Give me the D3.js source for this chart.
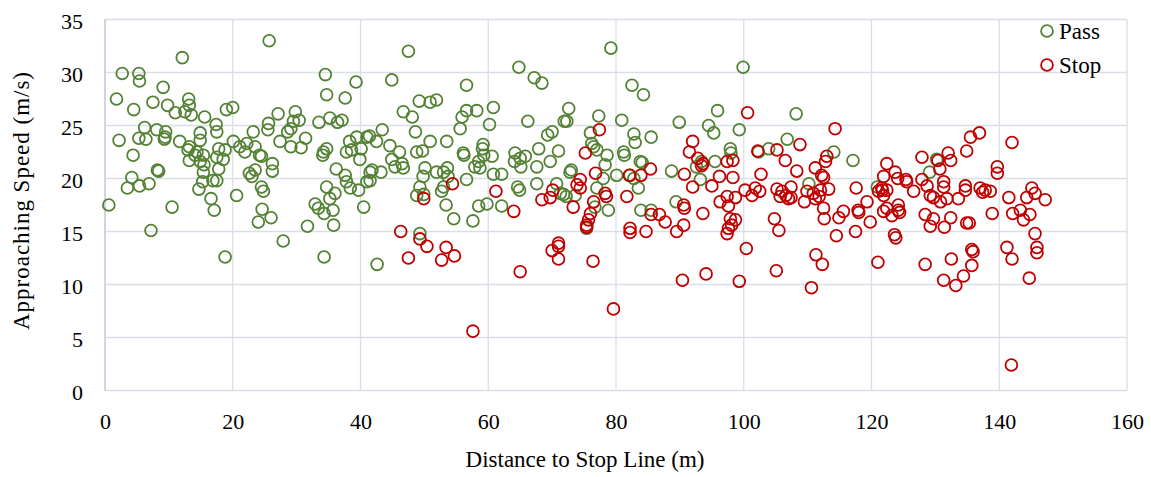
<!DOCTYPE html>
<html>
<head>
<meta charset="utf-8">
<script src="https://cdn.jsdelivr.net/npm/d3@7"></script>
<style>
  html, body { margin: 0; padding: 0; background: #fff; }
  svg { display: block; }
  text { font-family: "Liberation Serif", "Times New Roman", serif; fill: #000; }
</style>
</head>
<body>
<svg id="chart" width="1151" height="477"></svg>
<script>
// ---- data ----
const seriesNames = ["Pass", "Stop"];
const xTicks = [0, 20, 40, 60, 80, 100, 120, 140, 160];
const yTicks = [0, 5, 10, 15, 20, 25, 30, 35];
const xTitle = "Distance to Stop Line (m)";
const yTitle = "Approaching Speed (m/s)";

const passPoints = [
[25.7,33.0],[12.1,31.4],[2.7,29.9],[5.3,29.9],[5.4,29.2],[9.1,28.6],[1.8,27.5],[4.5,26.5],[7.5,27.2],[9.8,26.9],
[13.1,27.5],[13.2,26.9],[11.0,26.2],[12.5,26.3],[13.5,26.0],[15.6,25.8],[17.4,25.1],[17.5,24.4],[19.0,26.5],[20.0,26.7],
[6.2,24.8],[8.1,24.6],[9.5,24.4],[9.4,23.9],[9.3,23.7],[5.3,23.8],[6.4,23.7],[2.2,23.6],[11.7,23.5],[14.9,24.3],
[14.9,23.6],[13.2,23.0],[13.0,22.7],[14.4,22.5],[14.1,22.2],[15.4,22.2],[13.2,21.7],[14.9,21.6],[15.5,21.3],[17.8,22.8],
[18.8,22.7],[17.5,22.0],[18.5,21.8],[17.8,20.9],[15.4,20.6],[4.4,22.2],[8.2,20.8],[8.4,20.7],[4.2,20.1],[3.5,19.1],
[5.4,19.3],[6.9,19.5],[15.3,19.7],[16.9,19.8],[17.5,19.8],[14.7,19.0],[20.6,18.4],[20.1,23.5],[22.2,23.3],[23.2,24.4],
[21.1,23.0],[21.9,22.5],[23.5,23.0],[24.2,22.2],[24.5,22.1],[25.6,25.2],[25.5,24.6],[27.1,26.1],[29.8,26.3],[30.4,25.5],
[29.5,25.4],[29.1,24.7],[28.6,24.4],[27.4,23.5],[29.1,23.0],[30.7,22.9],[31.4,23.8],[26.2,21.4],[26.2,20.7],[22.6,20.5],
[23.0,20.2],[23.5,20.8],[24.5,19.2],[24.8,18.8],[0.6,17.5],[10.5,17.3],[16.6,18.1],[34.5,29.8],[34.7,27.9],[37.6,27.6],
[39.3,29.1],[33.5,25.3],[35.2,25.7],[36.4,25.3],[37.1,25.5],[39.4,23.9],[38.3,23.5],[34.7,22.8],[34.2,22.5],[34.1,22.2],
[37.8,22.5],[38.6,22.7],[40.1,22.8],[39.9,21.8],[41.0,23.9],[36.2,20.9],[37.6,20.3],[37.8,19.7],[38.4,19.1],[39.7,18.9],
[41.0,19.7],[34.7,19.2],[36.0,18.6],[35.2,18.1],[32.9,17.6],
[7.2,15.1],[17.1,17.0],[18.8,12.6],[24.6,17.1],[24.0,15.9],[26.0,16.3],[27.9,14.1],[31.7,15.5],[33.4,17.2],[34.3,16.7],
[35.7,17.0],[35.8,15.6],[34.3,12.6],[40.5,17.3],
[47.5,32.0],[44.9,29.3],[56.6,28.8],[64.8,30.5],[67.2,29.5],[68.4,29.0],[79.2,32.3],[82.5,28.8],[49.2,27.3],[50.9,27.2],
[51.9,27.4],[46.7,26.3],[48.1,25.8],[56.6,26.4],[58.2,26.4],[55.9,25.8],[55.6,24.7],[60.8,26.7],[60.2,25.1],[48.6,24.4],
[43.4,24.6],[41.4,24.0],[42.5,23.5],[44.6,23.1],[46.1,22.5],[44.9,21.8],[45.4,21.1],[46.5,21.4],[46.7,21.0],[48.8,22.5],
[49.7,22.6],[50.9,23.5],[53.5,23.5],[56.1,22.4],[56.2,22.2],[58.5,21.6],[59.2,23.2],[59.1,22.8],[59.3,22.2],[60.6,22.1],
[57.9,21.1],[58.7,21.0],[50.1,21.0],[51.9,20.6],[53.0,20.6],[53.6,21.0],[53.7,20.2],[49.8,20.2],[41.5,20.6],[41.8,20.8],
[43.2,20.6],[41.5,19.8],[49.3,19.2],[49.9,18.5],[48.8,18.4],[53.0,19.2],[52.7,18.8],[56.6,19.9],[60.8,20.4],[62.1,20.4],
[64.2,22.4],[65.0,21.9],[64.1,21.6],[65.1,21.1],[65.8,22.1],[66.2,25.4],[67.9,22.8],[67.6,21.1],[69.7,21.6],[69.3,24.1],
[70.0,24.4],[71.0,22.6],[71.9,25.4],[72.3,25.4],[72.6,26.6],[67.6,19.5],[64.6,19.2],[64.9,18.9],[70.7,19.5],[71.3,18.6],
[71.8,18.5],[72.8,20.6],[73.0,20.8],[76.0,24.3],[77.3,25.9],[76.2,23.3],[76.5,23.0],[77.0,22.7],[78.6,22.2],[78.3,21.3],
[78.0,20.0],[80.1,20.3],[81.2,22.5],[81.3,22.2],[80.9,25.5],[77.0,19.1],[72.2,18.3],[58.5,17.4],[59.8,17.6],[62.1,17.4],
[53.4,17.5],[54.6,16.2],[57.6,16.0],[49.3,14.8],[42.6,11.9],[73.6,18.4],[76.7,17.3],[78.8,17.0],[75.4,15.3],
[99.9,30.5],[84.3,27.9],[108.2,26.1],[95.9,26.4],[89.9,25.3],[94.5,25.0],[95.3,24.3],[99.3,24.6],[82.8,24.2],[83.0,23.4],
[85.5,23.9],[83.8,21.6],[84.1,21.5],[82.2,20.3],[82.8,20.0],[83.5,19.1],[88.7,20.7],[92.6,21.1],[93.4,21.6],[95.5,21.6],
[93.2,19.9],[97.9,22.8],[98.0,22.4],[102.3,22.5],[103.9,22.8],[106.8,23.7],[114.1,22.5],[117.1,21.7],[110.2,19.5],[89.4,17.8],
[120.9,19.2],[83.9,17.0],[85.5,17.0],[129.1,20.6],[130.2,21.8]
];

const stopPoints = [
[77.4,24.6],[75.2,22.4],[76.8,20.5],[54.4,19.5],[61.2,18.8],[49.9,18.1],[68.4,18.0],[70.1,18.9],[69.7,18.2],[74.4,19.9],
[73.9,19.4],[74.4,19.1],[78.3,18.6],[78.5,18.3],[76.5,17.8],[82.1,20.3],[81.7,18.3],[73.3,17.3],
[46.3,15.0],[49.3,14.3],[50.4,13.6],[47.5,12.5],[53.4,13.5],[54.7,12.7],[52.7,12.3],[57.6,5.6],[64.0,16.9],[65.0,11.2],
[70.0,13.2],[71.0,13.9],[71.0,13.6],[71.0,12.4],[76.0,16.7],[75.7,16.1],[75.4,15.6],[75.4,15.4],[76.4,12.2],[79.6,7.7],
[82.2,15.3],[82.2,14.9],
[100.6,26.2],[114.3,24.7],[92.0,23.5],[91.5,22.5],[92.8,21.9],[93.6,21.4],[93.4,21.2],[97.4,21.6],[98.3,21.7],[102.2,22.6],
[105.2,22.7],[108.8,23.2],[106.5,21.7],[108.3,20.7],[113.0,22.1],[112.8,21.6],[111.2,21.0],[112.2,20.3],[112.5,20.1],[122.4,21.4],
[121.9,20.2],[117.6,19.1],[113.3,19.0],[85.4,20.9],[83.9,20.3],[90.7,20.4],[92.0,19.2],[95.0,19.3],[96.2,20.2],[98.3,20.1],
[102.7,20.4],[100.2,18.9],[101.8,19.1],[102.5,18.8],[101.3,18.4],[105.2,19.0],[106.0,18.8],[106.6,18.4],[107.4,19.2],[107.4,18.2],
[109.9,18.8],[110.9,18.6],[112.0,18.9],[111.8,18.3],[97.4,18.3],[96.3,17.8],[98.7,18.2],[90.6,17.5],[119.3,17.8],[121.1,18.8],
[121.6,19.1],[122.4,18.9],
[85.5,16.6],[86.8,16.6],[87.7,15.9],[84.7,15.0],[89.5,15.0],[90.6,15.6],[90.7,17.2],[93.6,16.7],[97.6,17.4],[97.9,16.2],
[98.7,16.1],[98.1,15.6],[97.6,15.3],[97.4,14.8],[100.4,13.4],[94.1,11.0],[90.4,10.4],[99.3,10.3],[104.8,16.2],[105.5,15.1],
[105.1,11.3],[105.7,18.3],[107.0,18.1],[109.5,17.8],[111.2,18.1],[112.5,17.2],[112.6,16.2],[111.3,12.8],[112.3,11.9],[110.6,9.7],
[114.5,14.6],[114.9,16.3],[115.6,16.9],[117.5,15.0],[117.9,17.0],[118.0,16.8],[119.8,15.9],[121.0,12.1],[121.9,16.9],[122.4,17.2],
[136.9,24.3],[135.5,23.9],[142.0,23.4],[134.9,22.6],[132.0,22.4],[132.4,21.7],[127.9,22.0],[130.4,21.7],[130.7,20.9],[123.7,20.6],
[124.1,20.0],[125.4,19.9],[125.5,19.7],[127.9,19.9],[126.6,18.8],[131.3,19.7],[131.3,19.2],[128.7,19.3],[129.2,18.4],[129.7,18.2],
[131.8,18.1],[133.6,18.1],[134.7,19.3],[134.7,18.9],[137.0,19.1],[137.8,18.9],[138.6,18.8],[137.4,18.7],[139.7,21.1],[139.7,20.5],
[141.5,18.2],[145.1,19.1],[145.6,18.6],[144.3,18.2],[147.2,18.0],[121.7,18.9],[121.9,18.4],[124.2,17.5],[130.8,17.8],
[123.2,16.5],[124.2,17.0],[124.4,16.8],[128.4,16.6],[129.7,16.2],[129.2,15.5],[131.4,15.4],[132.4,16.3],[134.9,15.8],[135.3,15.8],
[138.9,16.7],[142.1,16.7],[143.3,17.0],[143.8,16.1],[144.8,16.6],[145.6,14.8],[145.9,13.5],[145.9,13.0],[141.2,13.5],[142.0,12.4],
[144.7,10.6],[141.9,2.4],[123.6,14.7],[123.8,14.4],[128.4,11.9],[132.5,12.4],[135.7,13.3],[135.9,13.1],[135.7,11.8],[134.4,10.8],
[131.3,10.4],[133.2,9.9]
];

// ---- styles ----
const colors = { Pass: "#548235", Stop: "#C00000" };
const svg = d3.select("#chart");
const W = 1151, H = 477;
const m = { left: 105, right: W - 1127, top: 19.5, bottom: H - 390.5 };

const x = d3.scaleLinear().domain([0, 160]).range([m.left, W - m.right]);
const y = d3.scaleLinear().domain([0, 35]).range([H - m.bottom, m.top]);

// grid
const grid = svg.append("g");
grid.selectAll("line.v").data(xTicks).join("line")
  .attr("x1", d => x(d)).attr("x2", d => x(d))
  .attr("y1", y(0)).attr("y2", y(35))
  .attr("stroke", "#dadfe7").attr("stroke-width", 1.3);
grid.selectAll("line.h").data(yTicks).join("line")
  .attr("x1", x(0)).attr("x2", x(160))
  .attr("y1", d => y(d)).attr("y2", d => y(d))
  .attr("stroke", "#dadfe7").attr("stroke-width", 1.3);
// left axis line
svg.append("line").attr("x1", x(0)).attr("x2", x(0)).attr("y1", y(0)).attr("y2", y(35))
  .attr("stroke", "#c2cad9").attr("stroke-width", 1.3);

// axes via d3 axis (labels only)
const fontSize = 22;
const xAxis = svg.append("g").attr("transform", `translate(0,${y(0)})`)
  .call(d3.axisBottom(x).tickValues(xTicks).tickSize(0).tickPadding(0));
xAxis.select(".domain").remove();
xAxis.selectAll("text").attr("font-size", fontSize).attr("dy", null).attr("y", 38)
  .style("font-family", '"Liberation Serif", serif').attr("fill", "#000");

const yAxis = svg.append("g").attr("transform", `translate(${x(0)},0)`)
  .call(d3.axisLeft(y).tickValues(yTicks).tickSize(0).tickPadding(0));
yAxis.select(".domain").remove();
yAxis.selectAll("text").attr("font-size", fontSize).attr("dy", null).attr("x", -22).attr("y", 9)
  .style("font-family", '"Liberation Serif", serif').attr("fill", "#000");

// axis titles
svg.append("text").attr("x", 585).attr("y", 467).attr("text-anchor", "middle")
  .attr("font-size", 23).text(xTitle);
svg.append("text").attr("transform", "translate(29,201) rotate(-90)").attr("text-anchor", "middle")
  .attr("font-size", 23).attr("textLength", 258).attr("lengthAdjust", "spacing").text(yTitle);

// points
const r = 5.9, sw = 1.8;
const plot = svg.append("g");
plot.selectAll("circle.pass").data(passPoints).join("circle").attr("class", "pass")
  .attr("cx", d => x(d[0])).attr("cy", d => y(d[1])).attr("r", r)
  .attr("fill", "none").attr("stroke", colors.Pass).attr("stroke-width", sw);
plot.selectAll("circle.stop").data(stopPoints).join("circle").attr("class", "stop")
  .attr("cx", d => x(d[0])).attr("cy", d => y(d[1])).attr("r", r)
  .attr("fill", "none").attr("stroke", colors.Stop).attr("stroke-width", sw);

// legend
const legend = svg.append("g").attr("transform", "translate(1047,31)");
seriesNames.forEach((s, i) => {
  const g = legend.append("g").attr("transform", `translate(0,${i * 34})`);
  g.append("circle").attr("r", r).attr("fill", "#fff").attr("stroke", colors[s]).attr("stroke-width", sw);
  g.append("text").attr("x", 12).attr("y", 8).attr("font-size", 23).text(s);
});
</script>
</body>
</html>
